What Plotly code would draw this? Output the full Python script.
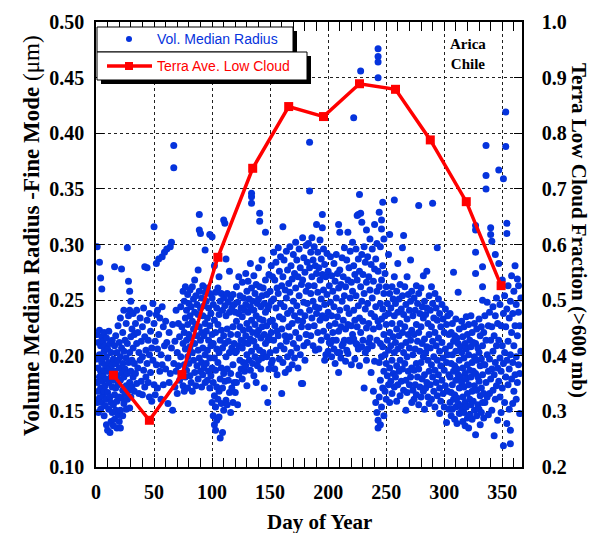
import plotly.graph_objects as go

# Fine-mode volume median radius (day of year, radius in µm), grouped by month
jan = [(1,.298),(1,.219),(1,.197),(1,.176),(1,.158),(2,.212),(2,.189),(2,.168),(2,.149),(3,.284),(3,.223),(3,.201),
       (3,.181),(3,.162),(4,.27),(4,.209),(4,.186),(4,.171),(4,.152),(5,.26),(5,.217),(5,.194),(5,.177),(5,.158),
       (6,.213),(6,.198),(6,.183),(6,.164),(7,.221),(7,.204),(7,.187),(7,.168),(7,.146),(8,.209),(8,.192),(8,.173),
       (8,.155),(9,.216),(9,.199),(9,.179),(9,.161),(9,.138),(10,.206),(10,.186),(10,.167),(10,.133),(11,.222),
       (11,.194),(11,.176),(11,.152),(12,.211),(12,.189),(12,.163),(12,.131),(13,.203),(13,.181),(13,.158),(13,.141),
       (14,.214),(14,.192),(14,.172),(14,.149),(15,.197),(15,.178),(15,.156),(15,.137),(16,.28),(16,.209),(16,.186),
       (16,.165),(16,.143),(17,.218),(17,.193),(17,.171),(17,.151),(18,.203),(18,.182),(18,.159),(18,.135),(19,.227),
       (19,.196),(19,.174),(19,.147),(20,.212),(20,.189),(20,.163),(20,.141),(21,.234),(21,.199),(21,.178),(21,.151),
       (21,.135),(22,.278),(22,.207),(22,.184),(22,.162),(23,.221),(23,.193),(23,.169),(23,.146),(24,.241),(24,.204),
       (24,.181),(24,.157),(25,.214),(25,.188),(25,.166),(26,.229),(26,.198),(26,.173),(26,.152),(27,.297),(27,.211),
       (27,.184),(27,.161),(28,.267),(28,.236),(28,.194),(28,.169),(29,.258),(29,.241),(29,.203),(29,.176),(29,.153),
       (30,.249),(30,.217),(30,.186),(30,.163),(31,.224),(31,.196),(31,.172)]
feb = [(32,.238),(32,.207),(32,.181),(33,.219),(33,.193),(33,.168),(34,.229),(34,.184),(35,.241),(35,.211),(35,.175),
       (36,.221),(36,.189),(37,.203),(37,.166),(38,.234),(38,.196),(39,.213),(39,.177),(40,.226),(40,.199),(40,.165),
       (41,.243),(41,.187),(42,.28),(42,.217),(42,.172),(43,.205),(43,.181),(44,.279),(44,.232),(44,.193),(45,.214),
       (45,.176),(46,.238),(46,.201),(46,.163),(47,.222),(47,.185),(48,.207),(48,.159),(49,.247),(49,.196),(50,.316),
       (50,.229),(50,.174),(51,.213),(51,.165),(52,.283),(52,.237),(52,.192),(53,.241),(53,.206),(53,.171),(54,.287),
       (54,.219),(55,.234),(55,.186),(56,.201),(56,.161),(57,.289),(57,.244),(57,.192),(58,.226),(58,.174),(59,.293),
       (59,.209)]
mar = [(60,.231),(60,.188),(61,.296),(61,.212),(62,.157),(62,.198),(63,.221),(63,.176),(64,.298),(64,.184),(65,.302),
       (65,.207),(66,.151),(66,.228),(67,.389),(67,.369),(67,.193),(68,.213),(68,.172),(69,.241),(69,.186),(70,.203),
       (70,.166),(71,.229),(71,.191),(72,.217),(72,.178),(73,.244),(73,.199),(74,.226),(74,.184),(75,.258),(75,.211),
       (75,.173),(76,.249),(76,.221),(76,.192),(76,.168),(77,.262),(77,.234),(77,.206),(77,.181),(78,.241),(78,.214),
       (78,.187),(79,.255),(79,.228),(79,.199),(79,.171),(80,.247),(80,.219),(80,.193),(81,.259),(81,.236),(81,.208),
       (81,.182),(82,.244),(82,.216),(82,.176),(83,.262),(83,.231),(83,.203),(83,.168),(84,.251),(84,.224),(84,.196),
       (85,.268),(85,.239),(85,.211),(85,.185),(86,.254),(86,.228),(86,.173),(87,.246),(87,.218),(87,.191),(88,.277),
       (88,.237),(88,.205),(88,.179),(89,.327),(89,.313),(89,.258),(89,.226),(89,.198),(90,.31),(90,.243),(90,.214),
       (90,.186)]
apr = [(91,.252),(91,.221),(91,.194),(91,.172),(92,.263),(92,.236),(92,.207),(92,.183),(93,.245),(93,.218),(93,.189),
       (94,.295),(94,.257),(94,.229),(94,.201),(94,.176),(95,.249),(95,.222),(95,.193),(96,.261),(96,.234),(96,.205),
       (96,.178),(97,.243),(97,.214),(97,.186),(98,.309),(98,.256),(98,.227),(98,.198),(98,.171),(99,.238),(99,.209),
       (99,.182),(100,.307),(100,.252),(100,.219),(100,.189),(100,.158),(101,.246),(101,.211),(101,.176),(101,.146),
       (102,.281),(102,.232),(102,.198),(102,.164),(102,.138),(103,.257),(103,.221),(103,.187),(103,.154),(103,.133),
       (104,.243),(104,.206),(104,.172),(104,.142),(105,.261),(105,.228),(105,.194),(105,.161),(106,.271),(106,.237),
       (106,.203),(106,.168),(106,.145),(107,.249),(107,.214),(107,.179),(107,.126),(108,.256),(108,.223),(108,.189),
       (108,.157),(109,.241),(109,.207),(109,.171),(109,.131),(110,.322),(110,.252),(110,.218),(110,.184),(110,.151),
       (111,.319),(111,.245),(111,.211),(111,.177),(112,.287),(112,.236),(112,.199),(112,.16),(113,.256),(113,.224),
       (113,.188),(113,.156),(114,.248),(114,.213),(114,.178),(115,.276),(115,.239),(115,.203),(115,.167),(116,.252),
       (116,.219),(116,.184),(116,.149),(117,.243),(117,.207),(117,.171),(118,.255),(118,.226),(118,.192),(118,.158),
       (119,.246),(119,.211),(119,.176),(120,.239),(120,.203),(120,.167)]
may = [(121,.262),(121,.231),(121,.204),(121,.176),(122,.248),(122,.219),(122,.156),(123,.271),(123,.238),(123,.209),
       (123,.183),(124,.254),(124,.226),(124,.196),(125,.243),(125,.214),(125,.188),(126,.266),(126,.235),(126,.207),
       (126,.179),(127,.252),(127,.223),(127,.194),(128,.241),(128,.212),(128,.186),(129,.274),(129,.246),(129,.218),
       (129,.191),(130,.258),(130,.229),(130,.201),(130,.173),(131,.267),(131,.239),(131,.211),(132,.251),(132,.224),
       (132,.196),(133,.283),(133,.244),(133,.215),(133,.187),(134,.346),(134,.343),(134,.337),(134,.261),(134,.232),
       (134,.204),(135,.249),(135,.221),(135,.193),(136,.272),(136,.241),(136,.213),(136,.182),(137,.256),(137,.228),
       (137,.199),(138,.264),(138,.236),(138,.208),(138,.176),(139,.247),(139,.219),(139,.191),(140,.279),(140,.251),
       (140,.223),(140,.196),(141,.328),(141,.321),(141,.262),(141,.233),(141,.205),(142,.244),(142,.216),(142,.188),
       (143,.286),(143,.254),(143,.226),(143,.198),(144,.261),(144,.232),(144,.203),(145,.247),(145,.219),(145,.171),
       (146,.311),(146,.268),(146,.239),(146,.211),(147,.255),(147,.227),(147,.199),(148,.242),(148,.214),(148,.158),
       (149,.273),(149,.245),(149,.217),(149,.188),(150,.258),(150,.231),(150,.203),(151,.281),(151,.249),(151,.221),
       (151,.193)]
jun = [(152,.271),(152,.232),(152,.196),(153,.293),(153,.251),(153,.214),(154,.268),(154,.227),(154,.188),(155,.284),
       (155,.243),(155,.205),(156,.261),(156,.222),(156,.183),(157,.297),(157,.256),(157,.218),(158,.276),(158,.235),
       (158,.197),(159,.289),(159,.247),(159,.209),(160,.263),(160,.224),(160,.166),(161,.316),(161,.271),(161,.233),
       (161,.194),(162,.286),(162,.244),(162,.206),(163,.259),(163,.218),(163,.185),(164,.294),(164,.252),(164,.213),
       (165,.277),(165,.238),(165,.199),(166,.265),(166,.226),(166,.188),(167,.298),(167,.257),(167,.217),(168,.281),
       (168,.241),(168,.203),(169,.269),(169,.229),(169,.192),(170,.291),(170,.249),(170,.211),(171,.274),(171,.236),
       (171,.198),(172,.302),(172,.261),(172,.221),(173,.286),(173,.245),(173,.207),(174,.271),(174,.232),(174,.189),
       (175,.296),(175,.254),(175,.216),(176,.279),(176,.239),(176,.201),(177,.264),(177,.226),(177,.175),(178,.306),
       (178,.268),(178,.231),(178,.175),(179,.288),(179,.248),(179,.209),(180,.275),(180,.236),(180,.196),(181,.299),
       (181,.258),(181,.219)]
jul = [(182,.284),(182,.247),(182,.212),(183,.301),(183,.263),(183,.226),(184,.392),(184,.348),(184,.279),(184,.241),
       (185,.293),(185,.256),(185,.218),(186,.306),(186,.271),(186,.234),(187,.286),(187,.249),(187,.209),(188,.298),
       (188,.263),(188,.227),(189,.281),(189,.244),(189,.205),(190,.318),(190,.274),(190,.238),(191,.293),(191,.257),
       (191,.221),(192,.279),(192,.243),(192,.206),(193,.304),(193,.268),(193,.232),(194,.287),(194,.251),(194,.214),
       (195,.327),(195,.315),(195,.273),(195,.236),(196,.296),(196,.259),(196,.222),(197,.282),(197,.246),(197,.196),
       (198,.271),(198,.234),(198,.201),(199,.292),(199,.255),(199,.217),(200,.276),(200,.239),(200,.204),(201,.263),
       (201,.227),(201,.212),(202,.289),(202,.248),(202,.211),(203,.272),(203,.236),(203,.199),(204,.258),(204,.221),
       (204,.214),(205,.283),(205,.244),(205,.206),(206,.267),(206,.229),(206,.193),(207,.291),(207,.252),(207,.214),
       (208,.274),(208,.235),(208,.203),(209,.318),(209,.261),(209,.222),(209,.185),(210,.311),(210,.277),(210,.241),
       (210,.203),(211,.264),(211,.226),(211,.198),(212,.288),(212,.249),(212,.209)]
aug = [(213,.271),(213,.232),(213,.211),(214,.297),(214,.254),(214,.214),(215,.262),(215,.224),(215,.195),(216,.286),
       (216,.243),(216,.205),(217,.311),(217,.268),(217,.228),(217,.202),(218,.279),(218,.238),(218,.214),(219,.294),
       (219,.252),(219,.213),(220,.266),(220,.227),(220,.192),(221,.302),(221,.258),(221,.219),(222,.414),(222,.281),
       (222,.241),(222,.215),(223,.273),(223,.232),(223,.197),(224,.296),(224,.254),(224,.211),(225,.326),(225,.268),
       (225,.226),(225,.21),(226,.327),(226,.287),(226,.245),(226,.206),(227,.345),(227,.276),(227,.234),(227,.191),
       (228,.456),(228,.328),(228,.262),(228,.221),(229,.32),(229,.291),(229,.249),(229,.208),(230,.273),(230,.231),
       (230,.214),(231,.298),(231,.256),(231,.171),(232,.284),(232,.242),(232,.203),(233,.313),(233,.266),(233,.225),
       (233,.196),(234,.289),(234,.247),(234,.206),(235,.271),(235,.229),(235,.212),(236,.305),(236,.259),(236,.216),
       (237,.282),(237,.238),(237,.185),(238,.296),(238,.252),(238,.209),(239,.267),(239,.224),(239,.168),(240,.318),
       (240,.278),(240,.235),(240,.195),(241,.287),(241,.244),(241,.158),(242,.301),(242,.258),(242,.214),(242,.149),
       (243,.476),(243,.469),(243,.464),(243,.45),(243,.276),(243,.231),(243,.142),(243,.135)]
sep = [(244,.329),(244,.262),(244,.226),(244,.194),(244,.163),(245,.298),(245,.247),(245,.211),(245,.178),(245,.138),
       (246,.322),(246,.314),(246,.268),(246,.233),(246,.199),(246,.154),(247,.338),(247,.281),(247,.242),(247,.208),
       (247,.171),(248,.305),(248,.256),(248,.219),(248,.186),(248,.146),(249,.274),(249,.236),(249,.201),(249,.168),
       (250,.262),(250,.228),(250,.193),(250,.161),(251,.247),(251,.214),(251,.182),(252,.291),(252,.238),(252,.205),
       (252,.174),(253,.309),(253,.256),(253,.221),(253,.189),(253,.158),(254,.243),(254,.209),(254,.177),(255,.262),
       (255,.229),(255,.196),(255,.166),(256,.251),(256,.217),(256,.184),(257,.34),(257,.271),(257,.236),(257,.203),
       (257,.172),(258,.247),(258,.212),(258,.181),(259,.258),(259,.224),(259,.191),(259,.159),(260,.283),(260,.239),
       (260,.206),(260,.174),(261,.251),(261,.218),(261,.186),(262,.264),(262,.229),(262,.196),(262,.164),(263,.242),
       (263,.209),(263,.177),(264,.297),(264,.254),(264,.221),(264,.188),(265,.308),(265,.237),(265,.203),(265,.169),
       (266,.262),(266,.226),(266,.193),(267,.246),(267,.212),(267,.178),(267,.151),(268,.271),(268,.233),(268,.199),
       (268,.167),(269,.255),(269,.219),(269,.186),(270,.241),(270,.207),(270,.174),(271,.286),(271,.249),(271,.214),
       (271,.181),(272,.258),(272,.223),(272,.189),(272,.158),(273,.236),(273,.201),(273,.169)]
oct_ = [(274,.252),(274,.219),(274,.187),(274,.161),(275,.241),(275,.206),(275,.174),(276,.263),(276,.228),(276,.193),
        (276,.165),(277,.247),(277,.213),(277,.181),(278,.335),(278,.256),(278,.221),(278,.188),(278,.156),(279,.238),
        (279,.204),(279,.172),(280,.261),(280,.226),(280,.194),(280,.163),(281,.244),(281,.211),(281,.179),(282,.272),
        (282,.234),(282,.199),(282,.168),(283,.249),(283,.215),(283,.183),(283,.152),(284,.237),(284,.203),(284,.171),
        (285,.276),(285,.243),(285,.208),(285,.176),(286,.229),(286,.196),(286,.163),(287,.254),(287,.219),(287,.186),
        (287,.157),(288,.241),(288,.207),(288,.174),(289,.262),(289,.226),(289,.192),(289,.161),(290,.337),(290,.247),
        (290,.213),(290,.181),(291,.234),(291,.199),(291,.168),(292,.256),(292,.221),(292,.187),(292,.154),(293,.243),
        (293,.209),(293,.176),(294,.297),(294,.232),(294,.196),(294,.164),(295,.251),(295,.216),(295,.183),(296,.238),
        (296,.204),(296,.171),(296,.148),(297,.226),(297,.191),(297,.159),(298,.246),(298,.212),(298,.178),(299,.233),
        (299,.198),(299,.166),(300,.221),(300,.187),(300,.154),(301,.242),(301,.206),(301,.173),(302,.228),(302,.194),
        (302,.14),(303,.236),(303,.201),(303,.168),(304,.219),(304,.183),(304,.152)]
nov = [(305,.238),(305,.209),(305,.181),(305,.158),(306,.221),(306,.193),(306,.167),(306,.146),(307,.229),(307,.201),
       (307,.174),(307,.152),(308,.275),(308,.213),(308,.186),(308,.161),(309,.218),(309,.191),(309,.165),(309,.143),
       (310,.233),(310,.204),(310,.178),(310,.154),(311,.216),(311,.188),(311,.162),(311,.139),(312,.257),(312,.211),
       (312,.183),(312,.157),(313,.224),(313,.196),(313,.171),(313,.148),(314,.208),(314,.181),(314,.155),(315,.231),
       (315,.203),(315,.176),(315,.151),(316,.217),(316,.189),(316,.163),(316,.141),(317,.226),(317,.198),(317,.172),
       (317,.149),(318,.211),(318,.184),(318,.158),(318,.137),(319,.235),(319,.206),(319,.179),(319,.154),(320,.219),
       (320,.192),(320,.166),(320,.144),(321,.228),(321,.201),(321,.174),(321,.135),(322,.214),(322,.187),(322,.161),
       (322,.147),(323,.236),(323,.208),(323,.181),(323,.156),(324,.221),(324,.194),(324,.168),(324,.143),(325,.212),
       (325,.186),(325,.159),(326,.229),(326,.199),(326,.173),(326,.151),(327,.317),(327,.313),(327,.293),(327,.274),
       (327,.211),(327,.184),(327,.129),(328,.224),(328,.196),(328,.169),(328,.146),(329,.207),(329,.181),(329,.156),
       (330,.233),(330,.203),(330,.177),(330,.152),(331,.218),(331,.191),(331,.164),(331,.138),(332,.226),(332,.197),
       (332,.171),(332,.149),(333,.28),(333,.262),(333,.25),(333,.209),(333,.183),(333,.158),(334,.221),(334,.192),
       (334,.166),(334,.144)]
dec = [(335,.236),(335,.192),(335,.158),(336,.389),(336,.362),(336,.35),(336,.214),(336,.176),(337,.248),(337,.201),
       (337,.163),(338,.227),(338,.186),(338,.147),(339,.239),(339,.197),(339,.166),(340,.315),(340,.309),(340,.214),
       (340,.179),(341,.303),(341,.226),(341,.188),(341,.151),(342,.244),(342,.204),(342,.169),(343,.218),(343,.183),
       (343,.128),(344,.291),(344,.236),(344,.194),(344,.161),(345,.252),(345,.209),(345,.173),(346,.229),(346,.189),
       (346,.142),(347,.367),(347,.283),(347,.214),(347,.177),(348,.246),(348,.198),(348,.163),(349,.227),(349,.186),
       (349,.149),(350,.268),(350,.209),(350,.171),(351,.359),(351,.238),(351,.193),(351,.119),(352,.254),(352,.203),
       (352,.158),(353,.419),(353,.388),(353,.226),(353,.181),(354,.319),(354,.31),(354,.242),(354,.196),(354,.139),
       (355,.263),(355,.213),(355,.174),(356,.234),(356,.188),(356,.152),(357,.249),(357,.201),(357,.133),(357,.121),
       (358,.272),(358,.221),(358,.179),(359,.238),(359,.194),(359,.157),(360,.258),(360,.209),(360,.168),(361,.281),
       (361,.227),(361,.183),(362,.246),(362,.199),(362,.161),(363,.269),(363,.218),(363,.176),(364,.263),(364,.239),
       (364,.192),(365,.227),(365,.184),(365,.148),(366,.252),(366,.204)]

# Terra monthly mean low-cloud fraction (>600 mb)
cloud_day = [15, 46, 74, 105, 135, 166, 196, 227, 258, 288, 319, 349]
cloud_frac = [0.365, 0.284, 0.366, 0.577, 0.737, 0.848, 0.830, 0.889, 0.879, 0.788, 0.677, 0.526]

x_ticks = [0, 50, 100, 150, 200, 250, 300, 350]
y_ticks = [0.10, 0.15, 0.20, 0.25, 0.30, 0.35, 0.40, 0.45, 0.50]
y2_ticks = [0.2, 0.3, 0.4, 0.5, 0.6, 0.7, 0.8, 0.9, 1.0]

BLUE = "#0533dd"
RED = "#ff0000"
SERIF = "Liberation Serif"
SANS = "Liberation Sans"

W, H = 593, 533
ML, MR, MT, MB = 96, 71, 22, 66


def fx(px):
    return (px - ML) / (W - ML - MR)


def fy(py):
    return 1 - (py - MT) / (H - MT - MB)


points = jan + feb + mar + apr + may + jun + jul + aug + sep + oct_ + nov + dec
days = [p[0] for p in points]
radius = [p[1] for p in points]

fig = go.Figure()
fig.add_trace(go.Scatter(
    x=days, y=radius, mode="markers", name="Vol. Median Radius",
    marker=dict(color=BLUE, size=7, line=dict(width=0)),
    showlegend=False,
))
fig.add_trace(go.Scatter(
    x=cloud_day, y=cloud_frac, yaxis="y2", mode="lines+markers",
    name="Terra Ave. Low Cloud",
    line=dict(color=RED, width=3.5),
    marker=dict(symbol="square", size=9, color=RED),
    showlegend=False,
))

tickfont = dict(family=SERIF, size=20, color="black", weight="bold")
axis_common = dict(
    showline=True, linecolor="black", linewidth=1.5,
    ticks="inside", tickcolor="black", tickwidth=1.2,
    tickfont=tickfont, zeroline=False,
)

fig.update_layout(
    width=W, height=H,
    margin=dict(l=ML, r=MR, t=MT, b=MB, pad=0),
    paper_bgcolor="white", plot_bgcolor="white",
    xaxis=dict(
        range=[0, 367], tickvals=x_ticks, ticklen=9, mirror="allticks",
        showgrid=True, gridcolor="#222", griddash="dot", gridwidth=1,
        minor=dict(dtick=10, tick0=0, ticks="inside", ticklen=5, tickcolor="black", tickwidth=1, showgrid=False),
        ticklabelstandoff=6,
        **axis_common,
    ),
    yaxis=dict(
        range=[0.10, 0.50], tickvals=y_ticks, tickformat=".2f", ticklen=8, mirror=True,
        showgrid=True, gridcolor="#222", griddash="dot", gridwidth=1,
        ticklabelstandoff=6,
        **axis_common,
    ),
    yaxis2=dict(
        range=[0.2, 1.0], tickvals=y2_ticks, tickformat=".1f", ticklen=8,
        overlaying="y", side="right", showgrid=False,
        ticklabelstandoff=14,
        **axis_common,
    ),
)


def label(text, x, y, size, family=SERIF, color="black", angle=0, xanchor="center"):
    fig.add_annotation(
        text=text, textangle=angle, xref="paper", yref="paper",
        x=fx(x), y=fy(y), xanchor=xanchor, yanchor="middle", showarrow=False,
        font=dict(family=family, size=size, color=color),
    )


# Axis titles and site name
label("<b>Volume Median Radius -Fine Mode</b> (μm)", 31, 236, 23, angle=-90)
label("<b>Terra Low Cloud Fraction (>600 mb)</b>", 579, 230, 21, angle=90)
label("<b>Day of Year</b>", 319, 522, 21)
label("<b>Arica<br>Chile</b>", 468, 54, 15)


# Boxed key with drop shadows
def rect(x0, y0, x1, y1, fill, line_w):
    fig.add_shape(
        type="rect", xref="paper", yref="paper",
        x0=fx(x0), x1=fx(x1), y0=fy(y1), y1=fy(y0),
        fillcolor=fill, line=dict(color="black", width=line_w), layer="above",
    )


rect(101, 31, 297, 56, "black", 0)
rect(97, 27, 293, 52, "white", 1)
rect(101, 56, 311, 84, "black", 0)
rect(97, 52, 307, 80, "white", 1)

fig.add_shape(type="circle", xref="paper", yref="paper",
              x0=fx(126), x1=fx(132), y0=fy(42), y1=fy(36),
              fillcolor=BLUE, line=dict(width=0), layer="above")
fig.add_shape(type="line", xref="paper", yref="paper",
              x0=fx(107), x1=fx(152), y0=fy(66), y1=fy(66),
              line=dict(color=RED, width=3.5), layer="above")
fig.add_shape(type="rect", xref="paper", yref="paper",
              x0=fx(125), x1=fx(133), y0=fy(70), y1=fy(62),
              fillcolor=RED, line=dict(width=0), layer="above")

label("Vol. Median Radius", 155, 39, 14, family=SANS, color=BLUE, xanchor="left")
label("Terra Ave. Low Cloud", 155, 66, 14, family=SANS, color=RED, xanchor="left")

fig.write_html("out.html")
